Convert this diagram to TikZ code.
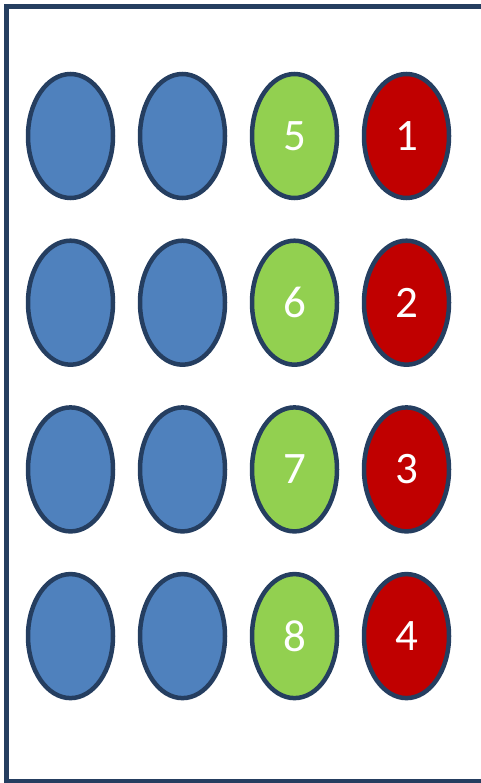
\documentclass[tikz,border=0pt]{standalone}
\usepackage{fontspec}
\setmainfont{Carlito}
\usepackage{xcolor}
\usetikzlibrary{positioning, shapes.geometric}

\definecolor{edgenavy}{HTML}{253E60}
\definecolor{cellblue}{HTML}{4F81BD}
\definecolor{cellgreen}{HTML}{92D050}
\definecolor{cellred}{HTML}{C00000}

\begin{document}
\begin{tikzpicture}[
  node distance=42.7pt and 27pt,
  cell/.style={ellipse, draw=edgenavy, line width=4.5pt, minimum width=85pt, minimum height=124pt,
    inner sep=0pt, outer sep=0pt, text=white, font=\fontsize{45}{54}\selectfont},
  frame/.style={draw=edgenavy, line width=5pt}
]
  \useasboundingbox (0,0) rectangle (481pt,-783pt);
  \clip (0,0) rectangle (481pt,-783pt);

  % outer frame, open to the right
  \draw[frame] (500pt,-6.5pt) -- (6.5pt,-6.5pt) -- (6.5pt,-781.5pt) -- (500pt,-781.5pt);

  % row 1
  \node[cell, fill=cellblue] (b11) at (70.5pt,-136pt) {};
  \node[cell, fill=cellblue, right=of b11] (b12) {};
  \node[cell, fill=cellgreen, right=of b12] (g5) {5};
  \node[cell, fill=cellred, right=of g5] (r1) {1};

  % row 2
  \node[cell, fill=cellblue, below=of b11] (b21) {};
  \node[cell, fill=cellblue, right=of b21] (b22) {};
  \node[cell, fill=cellgreen, right=of b22] (g6) {6};
  \node[cell, fill=cellred, right=of g6] (r2) {2};

  % row 3
  \node[cell, fill=cellblue, below=of b21] (b31) {};
  \node[cell, fill=cellblue, right=of b31] (b32) {};
  \node[cell, fill=cellgreen, right=of b32] (g7) {7};
  \node[cell, fill=cellred, right=of g7] (r3) {3};

  % row 4
  \node[cell, fill=cellblue, below=of b31] (b41) {};
  \node[cell, fill=cellblue, right=of b41] (b42) {};
  \node[cell, fill=cellgreen, right=of b42] (g8) {8};
  \node[cell, fill=cellred, right=of g8] (r4) {4};
\end{tikzpicture}
\end{document}
